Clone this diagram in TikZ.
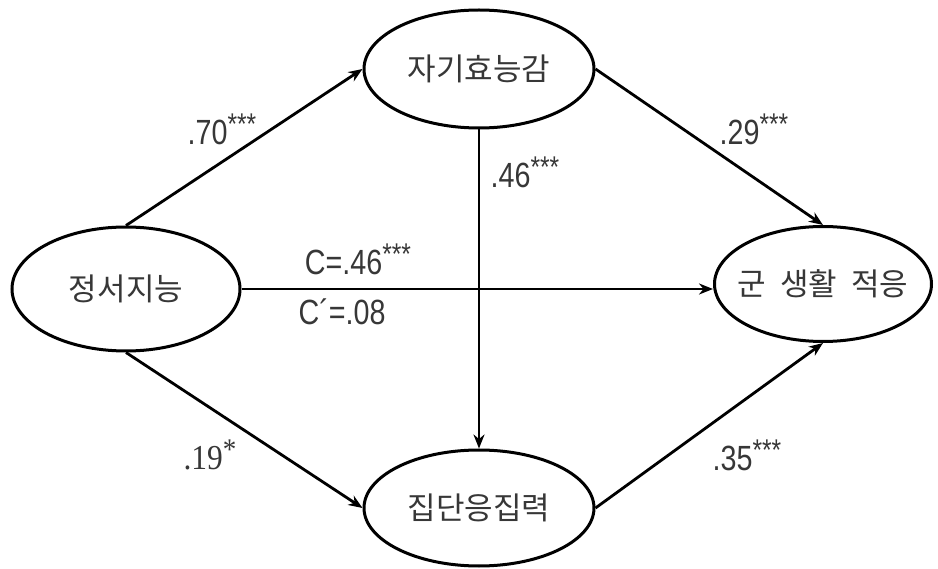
\documentclass[tikz,border=0pt]{standalone}
\usepackage{fontspec}
\usepackage{graphicx}
\setmainfont{Liberation Sans}
\newfontfamily\kr{Noto Sans CJK KR}
\newfontfamily\serifnum{Liberation Serif}
\usetikzlibrary{shapes.geometric,arrows.meta}
\definecolor{txtgray}{RGB}{55,55,55}
\newcommand{\sigstars}[1]{\raisebox{10pt}{\fontsize{30}{30}\selectfont #1}}
\begin{document}
\begin{tikzpicture}[x=1pt,y=-1pt,
  var/.style={draw, ellipse, line width=3pt, inner sep=0pt, font=\kr\fontsize{31}{31}\selectfont, text=txtgray},
  path arrow/.style={line width=2.8pt, -{Stealth[length=14pt,width=11pt]}},
  coef/.style={inner sep=0pt, text=txtgray, font=\fontsize{35}{35}\selectfont}
]
\useasboundingbox (0,0) rectangle (938,569);
\node[var, minimum width=228pt, minimum height=124pt] (L) at (126,289) {\makebox[0pt]{정서지능}};
\node[var, minimum width=230pt, minimum height=118pt] (T) at (479,69) {\makebox[0pt]{자기효능감}};
\node[var, minimum width=217pt, minimum height=115pt] (R) at (823,284) {\makebox[0pt]{군\hspace{0.45em}생활\hspace{0.45em}적응}};
\node[var, minimum width=230pt, minimum height=116pt] (B) at (479,508) {\makebox[0pt]{집단응집력}};

\draw[path arrow] (L.north) -- (T.west);
\draw[path arrow] (T.east) -- (R.north);
\draw[path arrow] (L.south) -- (B.west);
\draw[path arrow] (B.east) -- (R.south);
\draw[path arrow] (T.south) -- (B.north);
\draw[path arrow] (L.east) -- (R.west |- L.east);

\node[coef] (c70) at (222,129) {\scalebox{0.82}[1]{.70\sigstars{***}}};
\node[coef] (c29) at (754,129) {\scalebox{0.82}[1]{.29\sigstars{***}}};
\node[coef] (c46) at (525,172) {\scalebox{0.82}[1]{.46\sigstars{***}}};
\node[coef] (cc) at (358,259) {\scalebox{0.82}[1]{C=.46\sigstars{***}}};
\node[coef] (ccp) at (342,312) {\scalebox{0.82}[1]{C´=.08}};
\node[coef] (c19) at (210,455) {\serifnum\scalebox{0.9}[1]{.19\sigstars{*}}};
\node[coef] (c35) at (747,455) {\scalebox{0.82}[1]{.35\sigstars{***}}};
\end{tikzpicture}
\end{document}
